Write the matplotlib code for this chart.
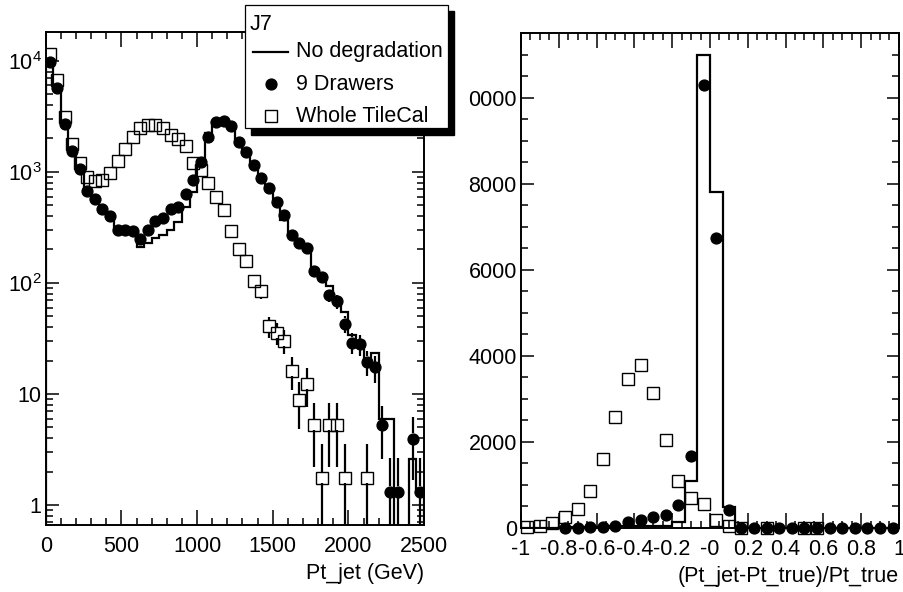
import numpy as np
import matplotlib
matplotlib.use('Agg')
import matplotlib.pyplot as plt
from matplotlib.patches import Rectangle
from matplotlib.ticker import MultipleLocator, LogLocator, NullFormatter

plt.rcParams['font.family'] = ['Liberation Sans', 'DejaVu Sans']
plt.rcParams['mathtext.fontset'] = 'custom'
plt.rcParams['mathtext.rm'] = 'Liberation Sans'
plt.rcParams['mathtext.default'] = 'regular'

# Pt_jet spectrum, 50 GeV bins from 0 to 2500 GeV
pt_edges = np.linspace(0, 2500, 51)
pt_nodeg = [9600, 5700, 2750, 1600, 1100, 720, 570, 470, 400, 285,
            285, 285, 210, 228, 253, 270, 300, 356, 487, 652,
            1160, 2250, 2820, 2880, 2600, 1870, 1520, 1150, 880, 720,
            530, 370, 270, 225, 198, 131, 114, 93, 68, 55,
            34, 30, 20, 23.5, 5.9, 5.9, 0, 0, 2.6, 1.3]
pt_drawers = [9730, 5680, 2700, 1555, 1057, 679, 571, 464, 402, 300,
              300, 294, 248, 300, 364, 383, 461, 487, 629, 847,
              1222, 2055, 2805, 2877, 2594, 1874, 1524, 1156, 877, 722,
              533, 410, 270, 228, 205, 127, 114, 77, 68, 43,
              29, 28, 19.5, 17.4, 5.2, 1.32, 1.32, 0, 3.94, 1.32]
pt_tilecal = [11490, 6740, 3110, 1788, 1197, 908, 829, 847, 973, 1264,
              1599, 2055, 2479, 2650, 2650, 2479, 2155, 1970, 1726, 1197,
              1042, 801, 588, 455, 296, 202, 156, 103, 84, 40.5,
              35.7, 30, 16.1, 8.8, 12.3, 5.26, 1.76, 5.26, 5.26, 1.76,
              0, 0, 1.76, 0, 0, 0, 0, 0, 0, 0]

# response (Pt_jet-Pt_true)/Pt_true, 30 bins from -1 to 1
resp_edges = np.linspace(-1, 1, 31)
resp_nodeg = [5, 8, 10, 12, 15, 18, 22, 35, 38, 38,
              40, 40, 150, 1100, 11000, 7800, 480, 5, 5, 5,
              5, 5, 5, 5, 5, 5, 5, 5, 5, 5]
resp_drawers = [0, 0, 0, 5, 10, 18, 30, 55, 128, 195,
                260, 296, 525, 1680, 10300, 6730, 410, 4, 4, 4,
                4, 4, 4, 4, 4, 4, 4, 4, 4, 4]
resp_tilecal = [12, 45, 125, 265, 437, 865, 1600, 2570, 3453, 3781,
                3133, 2055, 1085, 690, 560, 180, 50, 10, 0, 8,
                0, 0, 8, 8, 0, 0, 0, 0, 0, 0]

# event weights of the two degraded samples
w_drawers = 1.31
w_tilecal = 1.76

fs = 15.5
circle = dict(marker='o', ms=7.8, color='black', ls='none')
square = dict(marker='s', ms=8.4, mfc='none', mec='black', mew=1.0, ls='none')


def centers(edges):
    return 0.5 * (edges[1:] + edges[:-1])


def draw_errors(ax, x, v, w, gap=5.5):
    # vertical error bars that stop at the marker edge
    v = np.asarray(v, float)
    err = np.sqrt(w * v)
    lo_lim = ax.get_ylim()[0]
    inv = ax.transData.inverted()
    xs, y0, y1 = [], [], []
    for xi, vi, ei in zip(x, v, err):
        if vi <= 0:
            continue
        px, py = ax.transData.transform((xi, vi))
        g_lo = inv.transform((px, py - gap))[1]
        g_hi = inv.transform((px, py + gap))[1]
        lo = max(vi - ei, lo_lim)
        hi = vi + ei
        if lo < g_lo:
            xs.append(xi); y0.append(lo); y1.append(g_lo)
        if hi > g_hi:
            xs.append(xi); y0.append(g_hi); y1.append(hi)
    ax.vlines(xs, y0, y1, color='black', lw=1.6, zorder=3)


def style(ax):
    for s in ax.spines.values():
        s.set_linewidth(1.4)
    ax.tick_params(which='both', direction='in', top=True, right=True,
                   labelsize=fs, width=1.1)
    ax.tick_params(axis='x', which='major', length=10.5, pad=8)
    ax.tick_params(axis='y', which='major', length=9, pad=3)
    ax.tick_params(which='minor', length=5)


fig = plt.figure(figsize=(9.04, 5.92), dpi=100)

# left: Pt_jet
ax1 = fig.add_axes([0.0506, 0.1132, 0.4185, 0.8328])
ax1.set_yscale('log')
ax1.set_xlim(0, 2500)
ax1.set_ylim(0.66, 18200)
style(ax1)
ax1.set_xticks([0, 500, 1000, 1500, 2000, 2500],
               ['0', '500', '1000', '1500', '2000', '2500'])
ax1.xaxis.set_minor_locator(MultipleLocator(100))
ax1.set_yticks([1, 10, 100, 1000, 10000],
               ['1', '10', '$10^{2}$', '$10^{3}$', '$10^{4}$'])
ax1.yaxis.set_minor_locator(LogLocator(base=10, subs=np.arange(2, 10)))
ax1.yaxis.set_minor_formatter(NullFormatter())

xc = centers(pt_edges)
ax1.stairs(pt_nodeg, pt_edges, color='black', lw=1.6, zorder=2)
draw_errors(ax1, xc, pt_drawers, w_drawers)
draw_errors(ax1, xc, pt_tilecal, w_tilecal)
m = np.asarray(pt_drawers) > 0
ax1.plot(xc[m], np.asarray(pt_drawers)[m], zorder=4, **circle)
m = np.asarray(pt_tilecal) > 0
ax1.plot(xc[m], np.asarray(pt_tilecal)[m], zorder=4, **square)
ax1.set_xlabel('Pt_jet (GeV)', loc='right', fontsize=fs, labelpad=4)

# right: response
ax2 = fig.add_axes([0.5763, 0.1081, 0.4181, 0.836])
ax2.set_xlim(-1, 1)
ax2.set_ylim(0, 11500)
style(ax2)
ax2.set_xticks(np.linspace(-1, 1, 11),
               ['-1', '-0.8', '-0.6', '-0.4', '-0.2', '-0',
                '0.2', '0.4', '0.6', '0.8', '1'])
ax2.xaxis.set_minor_locator(MultipleLocator(0.05))
ax2.set_yticks([0, 2000, 4000, 6000, 8000, 10000],
               ['0', '2000', '4000', '6000', '8000', '0000'])
ax2.yaxis.set_minor_locator(MultipleLocator(500))

rc = centers(resp_edges)
ax2.stairs(resp_nodeg, resp_edges, color='black', lw=1.6, zorder=2)
draw_errors(ax2, rc, resp_drawers, w_drawers)
draw_errors(ax2, rc, resp_tilecal, w_tilecal)
m = np.asarray(resp_drawers) > 0
ax2.plot(rc[m], np.asarray(resp_drawers)[m], zorder=4, clip_on=False, **circle)
m = np.asarray(resp_tilecal) > 0
ax2.plot(rc[m], np.asarray(resp_tilecal)[m], zorder=4, clip_on=False, **square)
ax2.set_xlabel('(Pt_jet-Pt_true)/Pt_true', loc='right', fontsize=fs, labelpad=4)

# legend box with drop shadow, in pixel units of the figure
ov = fig.add_axes([0, 0, 1, 1])
ov.set_xlim(0, 904)
ov.set_ylim(592, 0)
ov.axis('off')
ov.set_zorder(10)
ov.add_patch(Rectangle((251, 11), 203, 124, color='black'))
ov.add_patch(Rectangle((245, 5), 203, 123, fc='white', ec='black', lw=0.9))
ov.text(250, 25, 'J7', fontsize=fs, va='center', ha='left')
ov.plot([253, 288], [52, 52], color='black', lw=1.6)
ov.text(296, 52, 'No degradation', fontsize=fs, va='center', ha='left')
ov.plot([271.5], [84], **circle)
ov.text(296, 84, '9 Drawers', fontsize=fs, va='center', ha='left')
ov.plot([271.5], [116], **square)
ov.text(296, 116, 'Whole TileCal', fontsize=fs, va='center', ha='left')

fig.savefig('out.png', dpi=100)
